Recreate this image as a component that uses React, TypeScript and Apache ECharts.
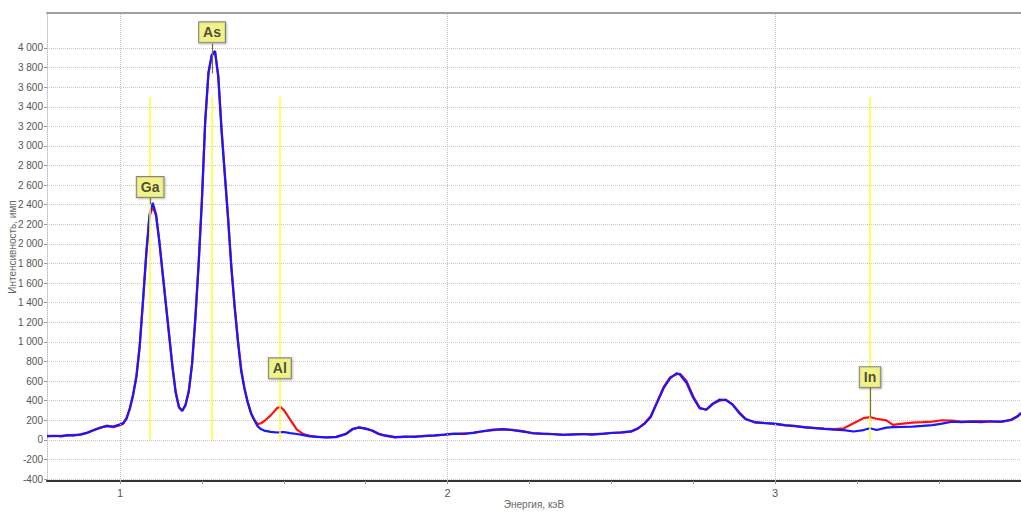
import React, { useEffect, useRef } from "react";
import * as echarts from "echarts";

// Energy, keV
const energies = [
  0.777, 0.8, 0.82, 0.84, 0.86, 0.88, 0.9, 0.92, 0.94, 0.96, 0.98, 1.0, 1.01, 1.02, 1.03, 1.04, 1.05, 1.06, 1.07, 1.08,
  1.09, 1.1, 1.11, 1.12, 1.13, 1.14, 1.15, 1.16, 1.17, 1.18, 1.19, 1.2, 1.21, 1.22, 1.23, 1.24, 1.25, 1.26, 1.27, 1.28,
  1.29, 1.3, 1.31, 1.32, 1.33, 1.34, 1.35, 1.36, 1.37, 1.38, 1.39, 1.4, 1.41, 1.42, 1.43, 1.44, 1.46, 1.48, 1.49, 1.5,
  1.52, 1.54, 1.56, 1.58, 1.6, 1.63, 1.66, 1.69, 1.71, 1.73, 1.75, 1.77, 1.79, 1.81, 1.84, 1.87, 1.9, 1.93, 1.96, 1.99,
  2.02, 2.05, 2.08, 2.11, 2.14, 2.17, 2.2, 2.23, 2.26, 2.29, 2.32, 2.35, 2.38, 2.41, 2.44, 2.47, 2.5, 2.53, 2.56, 2.58,
  2.6, 2.62, 2.64, 2.66, 2.68, 2.7, 2.71, 2.73, 2.75, 2.77, 2.79, 2.81, 2.83, 2.85, 2.87, 2.89, 2.91, 2.94, 2.97, 3.0,
  3.03, 3.06, 3.09, 3.12, 3.15, 3.18, 3.21, 3.24, 3.27, 3.29, 3.31, 3.34, 3.36, 3.39, 3.42, 3.45, 3.48, 3.51, 3.54, 3.57,
  3.6, 3.63, 3.66, 3.69, 3.72, 3.74, 3.751,
];

const blueCounts = [
  36, 42, 35, 48, 44, 56, 74, 98, 126, 140, 136, 158, 172, 225, 325, 465, 650, 960, 1420, 1900,
  2300, 2420, 2300, 2020, 1700, 1380, 1060, 740, 480, 330, 295, 360, 500, 780, 1250, 1800, 2450, 3250, 3750, 3930,
  3970, 3700, 3150, 2700, 2250, 1750, 1350, 1000, 700, 520, 380, 270, 200, 140, 110, 95, 82, 75, 78, 80,
  68, 60, 48, 36, 30, 26, 30, 62, 108, 128, 112, 96, 62, 45, 28, 34, 30, 40, 46, 54,
  64, 60, 74, 90, 104, 110, 98, 84, 70, 64, 60, 50, 56, 60, 54, 62, 70, 76, 86, 115,
  160, 230, 380, 530, 630, 680, 665, 580, 430, 320, 310, 370, 410, 405, 360, 275, 210, 180, 170, 165,
  150, 140, 130, 120, 112, 105, 100, 85, 100, 118, 100, 125, 130, 132, 136, 142, 150, 165, 185, 180,
  186, 180, 190, 186, 205, 240, 275,
];

const redCounts = [
  40, 38, 42, 45, 50, 52, 70, 102, 122, 145, 130, 150, 165, 215, 315, 455, 640, 950, 1400, 1880,
  2280, 2380, 2290, 2030, 1710, 1390, 1080, 760, 490, 335, 300, 350, 490, 770, 1230, 1790, 2440, 3240, 3740, 3920,
  3960, 3720, 3180, 2720, 2270, 1770, 1370, 1020, 720, 530, 385, 275, 205, 160, 170, 190, 250, 325, 335, 305,
  205, 105, 58, 42, 32, 24, 28, 58, 112, 124, 118, 92, 58, 40, 26, 30, 34, 38, 44, 52,
  60, 66, 70, 88, 98, 106, 102, 90, 66, 60, 58, 54, 52, 58, 58, 60, 72, 74, 84, 112,
  165, 240, 390, 540, 640, 670, 675, 600, 445, 330, 305, 365, 400, 410, 365, 285, 215, 175, 172, 160,
  148, 142, 128, 122, 115, 110, 118, 170, 222, 232, 215, 198, 152, 165, 175, 180, 186, 200, 196, 186,
  190, 192, 186, 184, 200, 236, 270,
];

const yTicks = [-400, -200, 0, 200, 400, 600, 800, 1000, 1200, 1400, 1600, 1800, 2000, 2200, 2400, 2600, 2800, 3000, 3200, 3400, 3600, 3800, 4000];
const xTickLabels = [1, 2, 3];
const xMinorTicks = [1, 1.25, 1.5, 1.75, 2, 2.25, 2.5, 2.75, 3, 3.25, 3.5];

const elementNames = ["Ga", "As", "Al", "In"];
const elementEnergies = [1.092, 1.281, 1.488, 3.29];
const elementLabelLevels = [2580, 4160, 730, 640];
const elementLineTop = 3500;
const leaderTops = [2466, 4043, 610, 530];
const leaderBottoms = [2405, 3740, 610, 230];

const X_MIN = 0.777;
const X_MAX = 3.751;
const Y_MIN = -420;
const Y_MAX = 4357;

function fmt(v: number): string {
  const s = String(Math.abs(v));
  const body = s.length > 3 ? s.slice(0, s.length - 3) + " " + s.slice(s.length - 3) : s;
  return (v < 0 ? "-" : "") + body;
}

export default function App() {
  const ref = useRef<HTMLDivElement>(null);

  useEffect(() => {
    document.body.style.margin = "0";
    const chart = echarts.init(ref.current!, null, { renderer: "svg" });

    const blueData = energies.map((e, i) => [e, blueCounts[i]]);
    const redData = energies.map((e, i) => [e, redCounts[i]]);

    const yellowLines = elementEnergies.map((e) => [
      { coord: [e, 0] },
      { coord: [e, elementLineTop] },
    ]);
    const leaderLines = elementEnergies
      .map((e, i) => [{ coord: [e, leaderTops[i]] }, { coord: [e, leaderBottoms[i]] }])
      .filter((_, i) => leaderTops[i] !== leaderBottoms[i]);

    const gridV = xTickLabels.map((v) => ({ xAxis: v }));

    chart.setOption({
      animation: false,
      backgroundColor: "#ffffff",
      grid: { left: 47, right: 0, top: 13, bottom: 32, containLabel: false, outerBoundsMode: "none" },
      xAxis: [
        {
          type: "value",
          min: X_MIN,
          max: X_MAX,
          name: "Энергия, кэВ",
          nameLocation: "middle",
          nameGap: 18,
          nameMoveOverlap: false,
          nameTextStyle: { color: "#666", fontSize: 10, fontFamily: "Liberation Sans Narrow, Arial, sans-serif" },
          axisLine: { show: true, onZero: false, lineStyle: { color: "#333", width: 2 } },
          axisTick: { show: true, customValues: xMinorTicks, length: 3, lineStyle: { color: "#999" } },
          axisLabel: {
            customValues: xTickLabels,
            color: "#556",
            fontSize: 11,
            margin: 6,
            fontFamily: "Liberation Sans Narrow, Arial, sans-serif",
          },
          splitLine: { show: false },
        },
        {
          type: "value",
          position: "top",
          min: X_MIN,
          max: X_MAX,
          axisLine: { show: true, onZero: false, lineStyle: { color: "#a0a0a0", width: 2 } },
          axisTick: { show: false },
          axisLabel: { show: false },
          splitLine: { show: false },
        },
      ],
      yAxis: {
        type: "value",
        min: Y_MIN,
        max: Y_MAX,
        name: "Интенсивность, имп",
        nameLocation: "middle",
        nameGap: 30,
        nameMoveOverlap: false,
        nameRotate: 90,
        nameTextStyle: { color: "#666", fontSize: 10, fontFamily: "Liberation Sans Narrow, Arial, sans-serif" },
        axisLine: { show: true, onZero: false, lineStyle: { color: "#c0c0c0", type: "dotted", width: 1 } },
        axisTick: { show: true, customValues: yTicks, length: 3, lineStyle: { color: "#999" } },
        axisLabel: {
          customValues: yTicks,
          formatter: (v: number) => fmt(v),
          color: "#555",
          fontSize: 10,
          margin: 4,
          fontFamily: "Liberation Sans Narrow, Arial, sans-serif",
        },
        splitLine: { show: true, lineStyle: { color: "#c8c8c8", type: "dotted", width: 1 } },
      },
      series: [
        {
          name: "grid",
          type: "line",
          data: [],
          silent: true,
          markLine: {
            silent: true,
            symbol: "none",
            label: { show: false },
            lineStyle: { color: "#c0c0c0", type: "dotted", width: 1 },
            data: gridV,
          },
        },
        {
          name: "elements",
          type: "line",
          data: [],
          silent: true,
          markLine: {
            silent: true,
            symbol: "none",
            label: { show: false },
            lineStyle: { color: "#ffff2e", type: "solid", width: 1.5 },
            data: yellowLines,
          },
        },
        {
          name: "red",
          type: "line",
          data: redData,
          showSymbol: false,
          smooth: false,
          lineStyle: { color: "#ff1010", width: 2.2 },
          itemStyle: { color: "#ff1010" },
          z: 3,
        },
        {
          name: "blue",
          type: "line",
          data: blueData,
          showSymbol: false,
          smooth: false,
          lineStyle: { color: "#1818ff", width: 2.2 },
          itemStyle: { color: "#1818ff" },
          z: 4,
        },
        {
          name: "leaders",
          type: "line",
          data: [],
          silent: true,
          z: 5,
          markLine: {
            silent: true,
            symbol: "none",
            label: { show: false },
            lineStyle: { color: "#707050", type: "solid", width: 1.2 },
            data: leaderLines,
          },
        },
        {
          name: "labels",
          type: "scatter",
          symbolSize: 0,
          z: 6,
          data: elementNames.map((n, i) => ({ name: n, value: [elementEnergies[i], elementLabelLevels[i]] })),
          label: {
            show: true,
            position: "inside",
            formatter: "{b}",
            color: "#222",
            fontSize: 14,
            fontWeight: "bold",
            fontFamily: "Arial, Liberation Sans, sans-serif",
            backgroundColor: "#f6f67a",
            borderColor: "#6a6a6a",
            borderWidth: 1,
            padding: [3, 4, 3, 4],
            shadowColor: "rgba(0,0,0,0.3)",
            shadowBlur: 2,
            shadowOffsetX: 1,
            shadowOffsetY: 1,
          },
        },
      ],
    });

    return () => chart.dispose();
  }, []);

  return <div ref={ref} style={{ width: 1021, height: 513 }} />;
}
